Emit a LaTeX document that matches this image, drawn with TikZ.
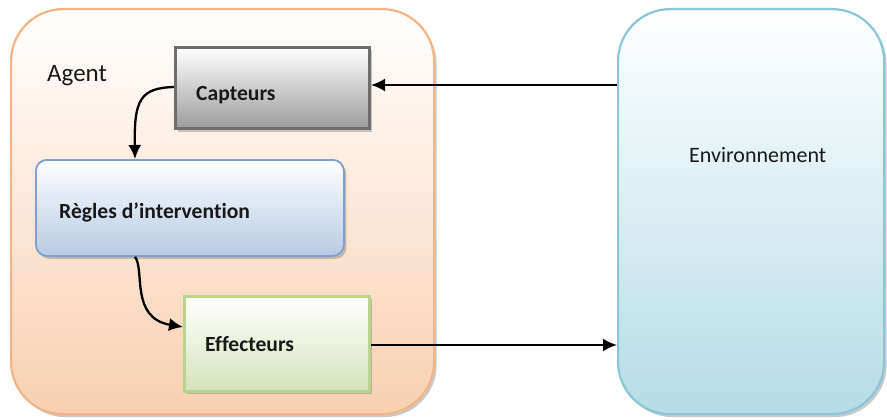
\documentclass[tikz,border=0pt]{standalone}
\usepackage{fontspec}
\setmainfont{Carlito}[Ligatures=NoCommon]
\usetikzlibrary{shadows,arrows.meta}
\definecolor{agentline}{HTML}{F4B486}
\definecolor{agentfill}{HTML}{F8D0B0}
\definecolor{envline}{HTML}{8BC6D6}
\definecolor{envfill}{HTML}{B5DCE6}
\definecolor{capline}{HTML}{6E6E6E}
\definecolor{capfill}{HTML}{9C9C9C}
\definecolor{regline}{HTML}{7EA0D0}
\definecolor{regfill}{HTML}{B6CAE4}
\definecolor{effline}{HTML}{B8D48E}
\definecolor{efffill}{HTML}{D5E3BA}
\tikzset{
  soft/.style={drop shadow={opacity=0.35, shadow xshift=2.5pt, shadow yshift=-3pt, fill=black!60}},
  bigbox/.style={rounded corners=52pt, line width=2.2pt, anchor=north west, inner sep=0pt},
  label/.style={anchor=base west, inner sep=0pt, text=black!90},
  boldlabel/.style={label, font=\fontsize{21.6}{24}\selectfont\bfseries},
  link/.style={line width=2.3pt, -{Latex[length=14pt, width=13pt]}}
}
\begin{document}
\begin{tikzpicture}[x=1pt, y=-1pt]
\useasboundingbox[fill=white] (0,0) rectangle (887,420);

% outer containers
\node[bigbox, draw=agentline, top color=white, bottom color=agentfill,
      minimum width=423pt, minimum height=405pt, soft] (agent) at (10,8) {};
\node[bigbox, draw=envline, top color=white, bottom color=envfill,
      minimum width=266pt, minimum height=405pt, soft] (env) at (617,8) {};

% inner blocks
\node[anchor=north west, inner sep=0pt, draw=capline, line width=3pt,
      top color=white, bottom color=capfill,
      minimum width=194pt, minimum height=81pt, soft] (capt) at (174,46) {};
\node[anchor=north west, inner sep=0pt, draw=regline, line width=1.8pt,
      rounded corners=11pt, top color=white, bottom color=regfill,
      minimum width=308pt, minimum height=96pt, soft] (regl) at (35,159) {};
\node[anchor=north west, inner sep=0pt, draw=effline, line width=2.5pt,
      top color=white, bottom color=efffill,
      minimum width=185pt, minimum height=95pt, soft] (effe) at (183,295) {};

% texts
\node[label, font=\fontsize{25}{28}\selectfont] (agentlbl) at (47,82) {Agent};
\node[label, font=\fontsize{22}{26}\selectfont] (envlbl) at (689,162) {Environnement};
\node[boldlabel] (captlbl) at (196,101) {Capteurs};
\node[boldlabel] (regllbl) at (59,218) {Règles d’intervention};
\node[boldlabel] (effelbl) at (205,351) {Effecteurs};

% connectors
\coordinate (envin) at (env.west |- 0,345);
\coordinate (envout) at (env.west |- 0,85);
\coordinate (captin) at (capt.east |- 0,85);
\coordinate (captout) at (capt.west |- 0,87);
\coordinate (reglin) at (regl.north -| 135,0);
\coordinate (reglout) at (regl.south -| 135,0);
\coordinate (effein) at (effe.west |- 0,327);
\coordinate (effeout) at (effe.east |- 0,345);

\draw[link] (envout) -- (captin);
\draw[link] (captout) .. controls (140,88) and (134,100) .. (reglin);
\draw[link] (reglout) .. controls (145,270) and (130,318) .. (effein);
\draw[link] (effeout) -- (envin);
\end{tikzpicture}
\end{document}
